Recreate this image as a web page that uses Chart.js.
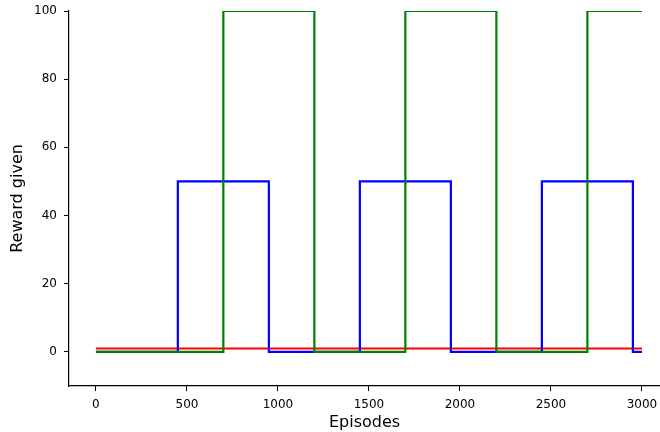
<!DOCTYPE html>
<html>
<head>
<meta charset="utf-8">
<script src="https://cdn.jsdelivr.net/npm/chart.js@4"></script>
<style>
  html, body { margin: 0; padding: 0; background: #fff; overflow: hidden; }
  #wrap { width: 660px; height: 432px; }
</style>
</head>
<body>
<div id="wrap"><canvas id="chart"></canvas></div>
<script>
// step points: each value holds until the next episode
const greenEpisodes = [0, 700, 1200, 1700, 2200, 2700, 3000];
const greenRewards  = [0, 100, 0, 100, 0, 100, 100];

const blueEpisodes = [0, 450, 950, 1450, 1950, 2450, 2950, 3000];
const blueRewards  = [0, 50, 0, 50, 0, 50, 0, 0];

const redEpisodes = [0, 3000];
const redRewards  = [1, 1];

const xTicks = [0, 500, 1000, 1500, 2000, 2500, 3000];
const yTicks = [0, 20, 40, 60, 80, 100];

function points(xs, ys) {
    return xs.map((x, i) => ({ x, y: ys[i] }));
}

function series(xs, ys, color) {
    return {
        data: points(xs, ys),
        borderColor: color,
        borderWidth: 2.2,
        pointRadius: 0,
        stepped: true,
        fill: false,
    };
}

Chart.defaults.font.family = "'DejaVu Sans', sans-serif";
Chart.defaults.color = '#000';

new Chart(document.getElementById('chart'), {
    type: 'line',
    data: {
        datasets: [
            series(greenEpisodes, greenRewards, '#008000'),
            series(blueEpisodes, blueRewards, '#0000ff'),
            series(redEpisodes, redRewards, '#ff0000'),
        ],
    },
    options: {
        responsive: true,
        maintainAspectRatio: false,
        animation: false,
        layout: { padding: { top: 11, right: 0, left: 0, bottom: 0 } },
        plugins: { legend: { display: false }, tooltip: { enabled: false } },
        scales: {
            x: {
                type: 'linear',
                min: -148,
                max: 3099,
                afterBuildTicks: s => { s.ticks = xTicks.map(v => ({ value: v })); },
                afterFit: s => { s.height = 46; s.paddingLeft = 0; s.paddingRight = 0; },
                grid: { drawOnChartArea: false, tickLength: 5, color: '#000', tickWidth: 1 },
                border: { color: '#000', width: 1.2 },
                ticks: { font: { size: 12 }, color: '#000', padding: 7, maxRotation: 0, callback: v => String(v) },
                title: { display: true, text: 'Episodes', font: { size: 16 }, color: '#000', padding: { top: 0, bottom: 0 } },
            },
            y: {
                min: -10,
                max: 100,
                afterBuildTicks: s => { s.ticks = yTicks.map(v => ({ value: v })); },
                afterFit: s => { s.width = 69; s.paddingTop = 0; s.paddingBottom = 0; },
                grid: { drawOnChartArea: false, tickLength: 5, color: '#000', tickWidth: 1 },
                border: { color: '#000', width: 1.2 },
                ticks: { font: { size: 12 }, color: '#000', padding: 7, callback: v => String(v) },
                title: { display: true, text: 'Reward given', font: { size: 16 }, color: '#000', padding: { top: 8, bottom: 0 } },
            },
        },
    },
});
</script>
</body>
</html>
